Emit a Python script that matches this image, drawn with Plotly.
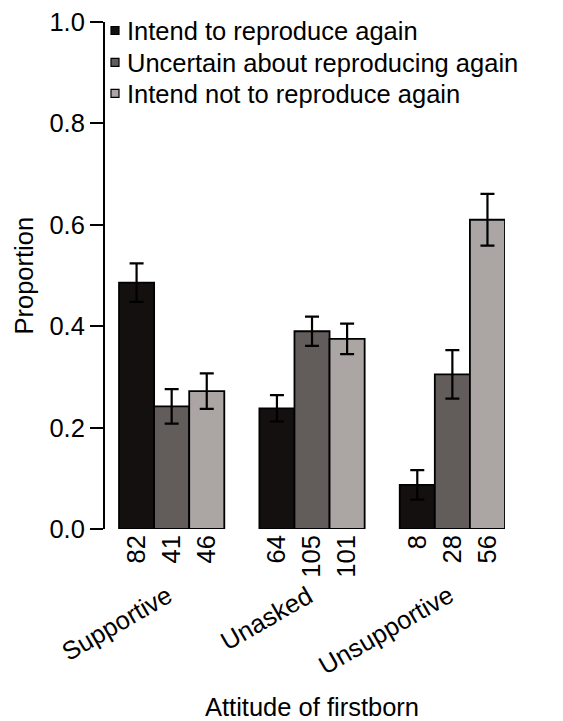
import plotly.graph_objects as go

# ---- data ----
groups = ["Supportive", "Unasked", "Unsupportive"]
series_names = ["Intend to reproduce again",
                "Uncertain about reproducing again",
                "Intend not to reproduce again"]
intend = [0.486, 0.238, 0.087]
intend_err = [0.038, 0.026, 0.029]
uncertain = [0.242, 0.390, 0.305]
uncertain_err = [0.034, 0.029, 0.048]
intend_not = [0.272, 0.375, 0.610]
intend_not_err = [0.035, 0.030, 0.051]
counts_intend = [82, 64, 8]
counts_uncertain = [41, 105, 28]
counts_intend_not = [46, 101, 56]
y_ticks = [0.0, 0.2, 0.4, 0.6, 0.8, 1.0]

colors = ["#151010", "#625c5a", "#aba6a4"]
FONT = "Liberation Sans, Arial, Helvetica, sans-serif"
FS = 25.5

# page has an 8px body margin; work in page pixels and compensate
OFF = 8
PW, PH = 563, 721
W, H = PW - OFF, PH - OFF
L, R, T, B = 105 - OFF, 58, 21.5 - OFF, 192
pw, ph = W - L - R, H - T - B

def px_x(px):
    return (px - OFF - L) / pw

def px_y(py):
    return (H - B - (py - OFF)) / ph

# bar positions: groups of 3 contiguous bars with 1-bar gap
group_start = [0, 4, 8]
vals = [intend, uncertain, intend_not]
errs = [intend_err, uncertain_err, intend_not_err]
counts = [counts_intend, counts_uncertain, counts_intend_not]

fig = go.Figure()
tickvals, ticktext = [], []
for s in range(3):
    xs = [g + s + 0.5 for g in group_start]
    fig.add_trace(go.Bar(
        x=xs, y=vals[s], width=1, name=series_names[s],
        marker=dict(color=colors[s], line=dict(color="black", width=1.8)),
        error_y=dict(type="data", array=errs[s], visible=True,
                     color="black", thickness=2.2, width=7),
        showlegend=False,
    ))
    tickvals += xs
    ticktext += [str(c) for c in counts[s]]

annotations = []
shapes = []
# custom legend (squares + text)
leg_y = [30, 62, 93]
for s in range(3):
    cy = leg_y[s]
    shapes.append(dict(type="rect", xref="paper", yref="paper",
                       x0=px_x(111), x1=px_x(119), y0=px_y(cy - 4), y1=px_y(cy + 4),
                       fillcolor=colors[s], line=dict(color="black", width=1.2)))
    annotations.append(dict(text=series_names[s], xref="paper", yref="paper",
                            x=px_x(125), y=px_y(cy + 1), xanchor="left", yanchor="middle",
                            showarrow=False, font=dict(family=FONT, size=FS, color="black")))

# group labels, rotated, visible right end at group centre
for i, gname in enumerate(groups):
    annotations.append(dict(text=gname, xref="x", yref="paper",
                            x=group_start[i] + 1.5 + 0.23, y=px_y(578),
                            xanchor="right", yanchor="top", textangle=-30,
                            showarrow=False, font=dict(family=FONT, size=FS, color="black")))

# axis titles
annotations.append(dict(text="Attitude of firstborn", xref="paper", yref="paper",
                        x=px_x(312), y=px_y(707), xanchor="center", yanchor="middle",
                        showarrow=False, font=dict(family=FONT, size=FS, color="black")))
annotations.append(dict(text="Proportion", xref="paper", yref="paper",
                        x=px_x(23), y=0.5, xanchor="center", yanchor="middle",
                        textangle=-90, showarrow=False,
                        font=dict(family=FONT, size=FS, color="black")))

fig.update_layout(
    width=W, height=H,
    margin=dict(l=L, r=R, t=T, b=B, pad=0, autoexpand=False),
    paper_bgcolor="white", plot_bgcolor="white",
    barmode="overlay",
    font=dict(family=FONT, size=FS, color="black"),
    xaxis=dict(range=[-0.4, 11.0], tickvals=tickvals, ticktext=ticktext,
               tickangle=-90, ticks="", showline=False, showgrid=False,
               zeroline=False, automargin=False,
               tickfont=dict(family=FONT, size=FS, color="black")),
    yaxis=dict(range=[0, 1], tickvals=y_ticks,
               ticktext=[f"{v:.1f}" for v in y_ticks],
               ticks="outside", ticklen=13, tickwidth=2, tickcolor="black",
               ticklabeloverflow="allow", automargin=False,
               showline=True, linewidth=2, linecolor="black",
               showgrid=False, zeroline=False,
               tickfont=dict(family=FONT, size=FS, color="black")),
    annotations=annotations, shapes=shapes,
)

fig.write_html("out.html")
